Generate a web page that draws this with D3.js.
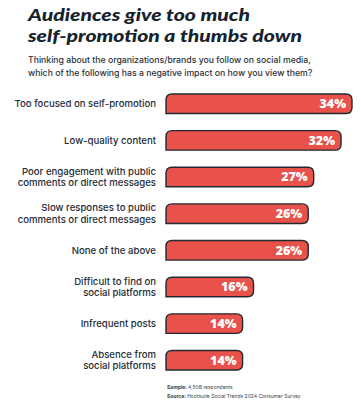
<!DOCTYPE html>
<html><head><meta charset="utf-8">
<script src="https://cdn.jsdelivr.net/npm/d3@7"></script>
<style>
html,body{margin:0;padding:0;background:#fff;}
svg{display:block;}
</style></head>
<body>
<svg id="chart" width="361" height="413"></svg>
<script>
const categories = [
  ["Too focused on self-promotion"],
  ["Low-quality content"],
  ["Poor engagement with public", "comments or direct messages"],
  ["Slow responses to public", "comments or direct messages"],
  ["None of the above"],
  ["Difficult to find on", "social platforms"],
  ["Infrequent posts"],
  ["Absence from", "social platforms"]
];
const values = [34, 32, 27, 26, 26, 16, 14, 14];
const titleLines = ["Audiences give too much", "self-promotion a thumbs down"];
const subtitleLines = [
  "Thinking about the organizations/brands you follow on social media,",
  "which of the following has a negative impact on how you view them?"
];

const svg = d3.select("#chart");
const ink = "#16222e";
const barFill = "#e8524a";

// Title
svg.selectAll("text.title").data(titleLines).join("text")
  .attr("class","title")
  .attr("x", 28).attr("y", (d,i) => 21 + i*20.5)
  .attr("font-family", "Lato, sans-serif")
  .attr("font-weight", 900).attr("font-style", "italic")
  .attr("font-size", 16.8).attr("fill", ink)
  .attr("textLength", (d,i) => i === 0 ? 222 : 274)
  .attr("lengthAdjust", "spacingAndGlyphs")
  .text(d => d);

// Subtitle
svg.selectAll("text.sub").data(subtitleLines).join("text")
  .attr("class","sub")
  .attr("x", 28).attr("y", (d,i) => 63 + i*13)
  .attr("font-family", "Inter, sans-serif")
  .attr("font-weight", 500)
  .attr("font-size", 8.7).attr("fill", "#2b2f38")
  .text(d => d);

const keys = categories.map((c,i) => i);
const y = d3.scaleBand().domain(keys).range([94, 370]).paddingInner(0.467).paddingOuter(0);
const x = d3.scaleLinear().domain([0, 34]).range([166, 352]);

const r = 6;
function barPath(x0, x1, y0, h) {
  const p = d3.path();
  p.moveTo(x0, y0 + h);
  p.lineTo(x0, y0 + r);
  p.quadraticCurveTo(x0, y0, x0 + r, y0);
  p.lineTo(x1 - r, y0);
  p.quadraticCurveTo(x1, y0, x1, y0 + r);
  p.lineTo(x1, y0 + h - r);
  p.quadraticCurveTo(x1, y0 + h, x1 - r, y0 + h);
  p.closePath();
  return p.toString();
}

const g = svg.append("g");
g.selectAll("path.bar").data(values).join("path")
  .attr("class","bar")
  .attr("d", (d,i) => barPath(x(0), x(d), y(i), y.bandwidth()))
  .attr("fill", barFill)
  .attr("stroke", "#232a33").attr("stroke-width", 1.4);

g.selectAll("text.val").data(values).join("text")
  .attr("class","val")
  .attr("x", d => x(d) - 6)
  .attr("y", (d,i) => y(i) + y.bandwidth()/2 + 4.3)
  .attr("text-anchor","end")
  .attr("font-family", "'Open Sans', sans-serif")
  .attr("font-weight", 800)
  .attr("font-size", 12.5).attr("fill", "#fff")
  .text(d => d3.format(".0f")(d) + "%");

// Category labels
const lab = g.selectAll("text.cat").data(categories).join("text")
  .attr("class","cat")
  .attr("text-anchor","end")
  .attr("font-family", "Inter, sans-serif")
  .attr("font-weight", 500)
  .attr("font-size", 9.6).attr("fill", "#252b35");
lab.each(function(lines, i) {
  const cy = y(i) + y.bandwidth()/2;
  const n = lines.length;
  d3.select(this).selectAll("tspan").data(lines).join("tspan")
    .attr("x", 156)
    .attr("y", (d,j) => cy + 3.4 + (j - (n-1)/2) * 11.5)
    .text(d => d);
});

// Footer
const foot = svg.append("g").attr("font-family","Inter, sans-serif").attr("font-size", 5).attr("fill", "#3a3f48");
const f1 = foot.append("text").attr("x", 167).attr("y", 389);
f1.append("tspan").attr("font-weight", 700).text("Sample: ");
f1.append("tspan").text("4,508 respondents");
const f2 = foot.append("text").attr("x", 167).attr("y", 397.5);
f2.append("tspan").attr("font-weight", 700).text("Source: ");
f2.append("tspan").text("Hootsuite Social Trends 2024 Consumer Survey");
</script>
</body></html>
